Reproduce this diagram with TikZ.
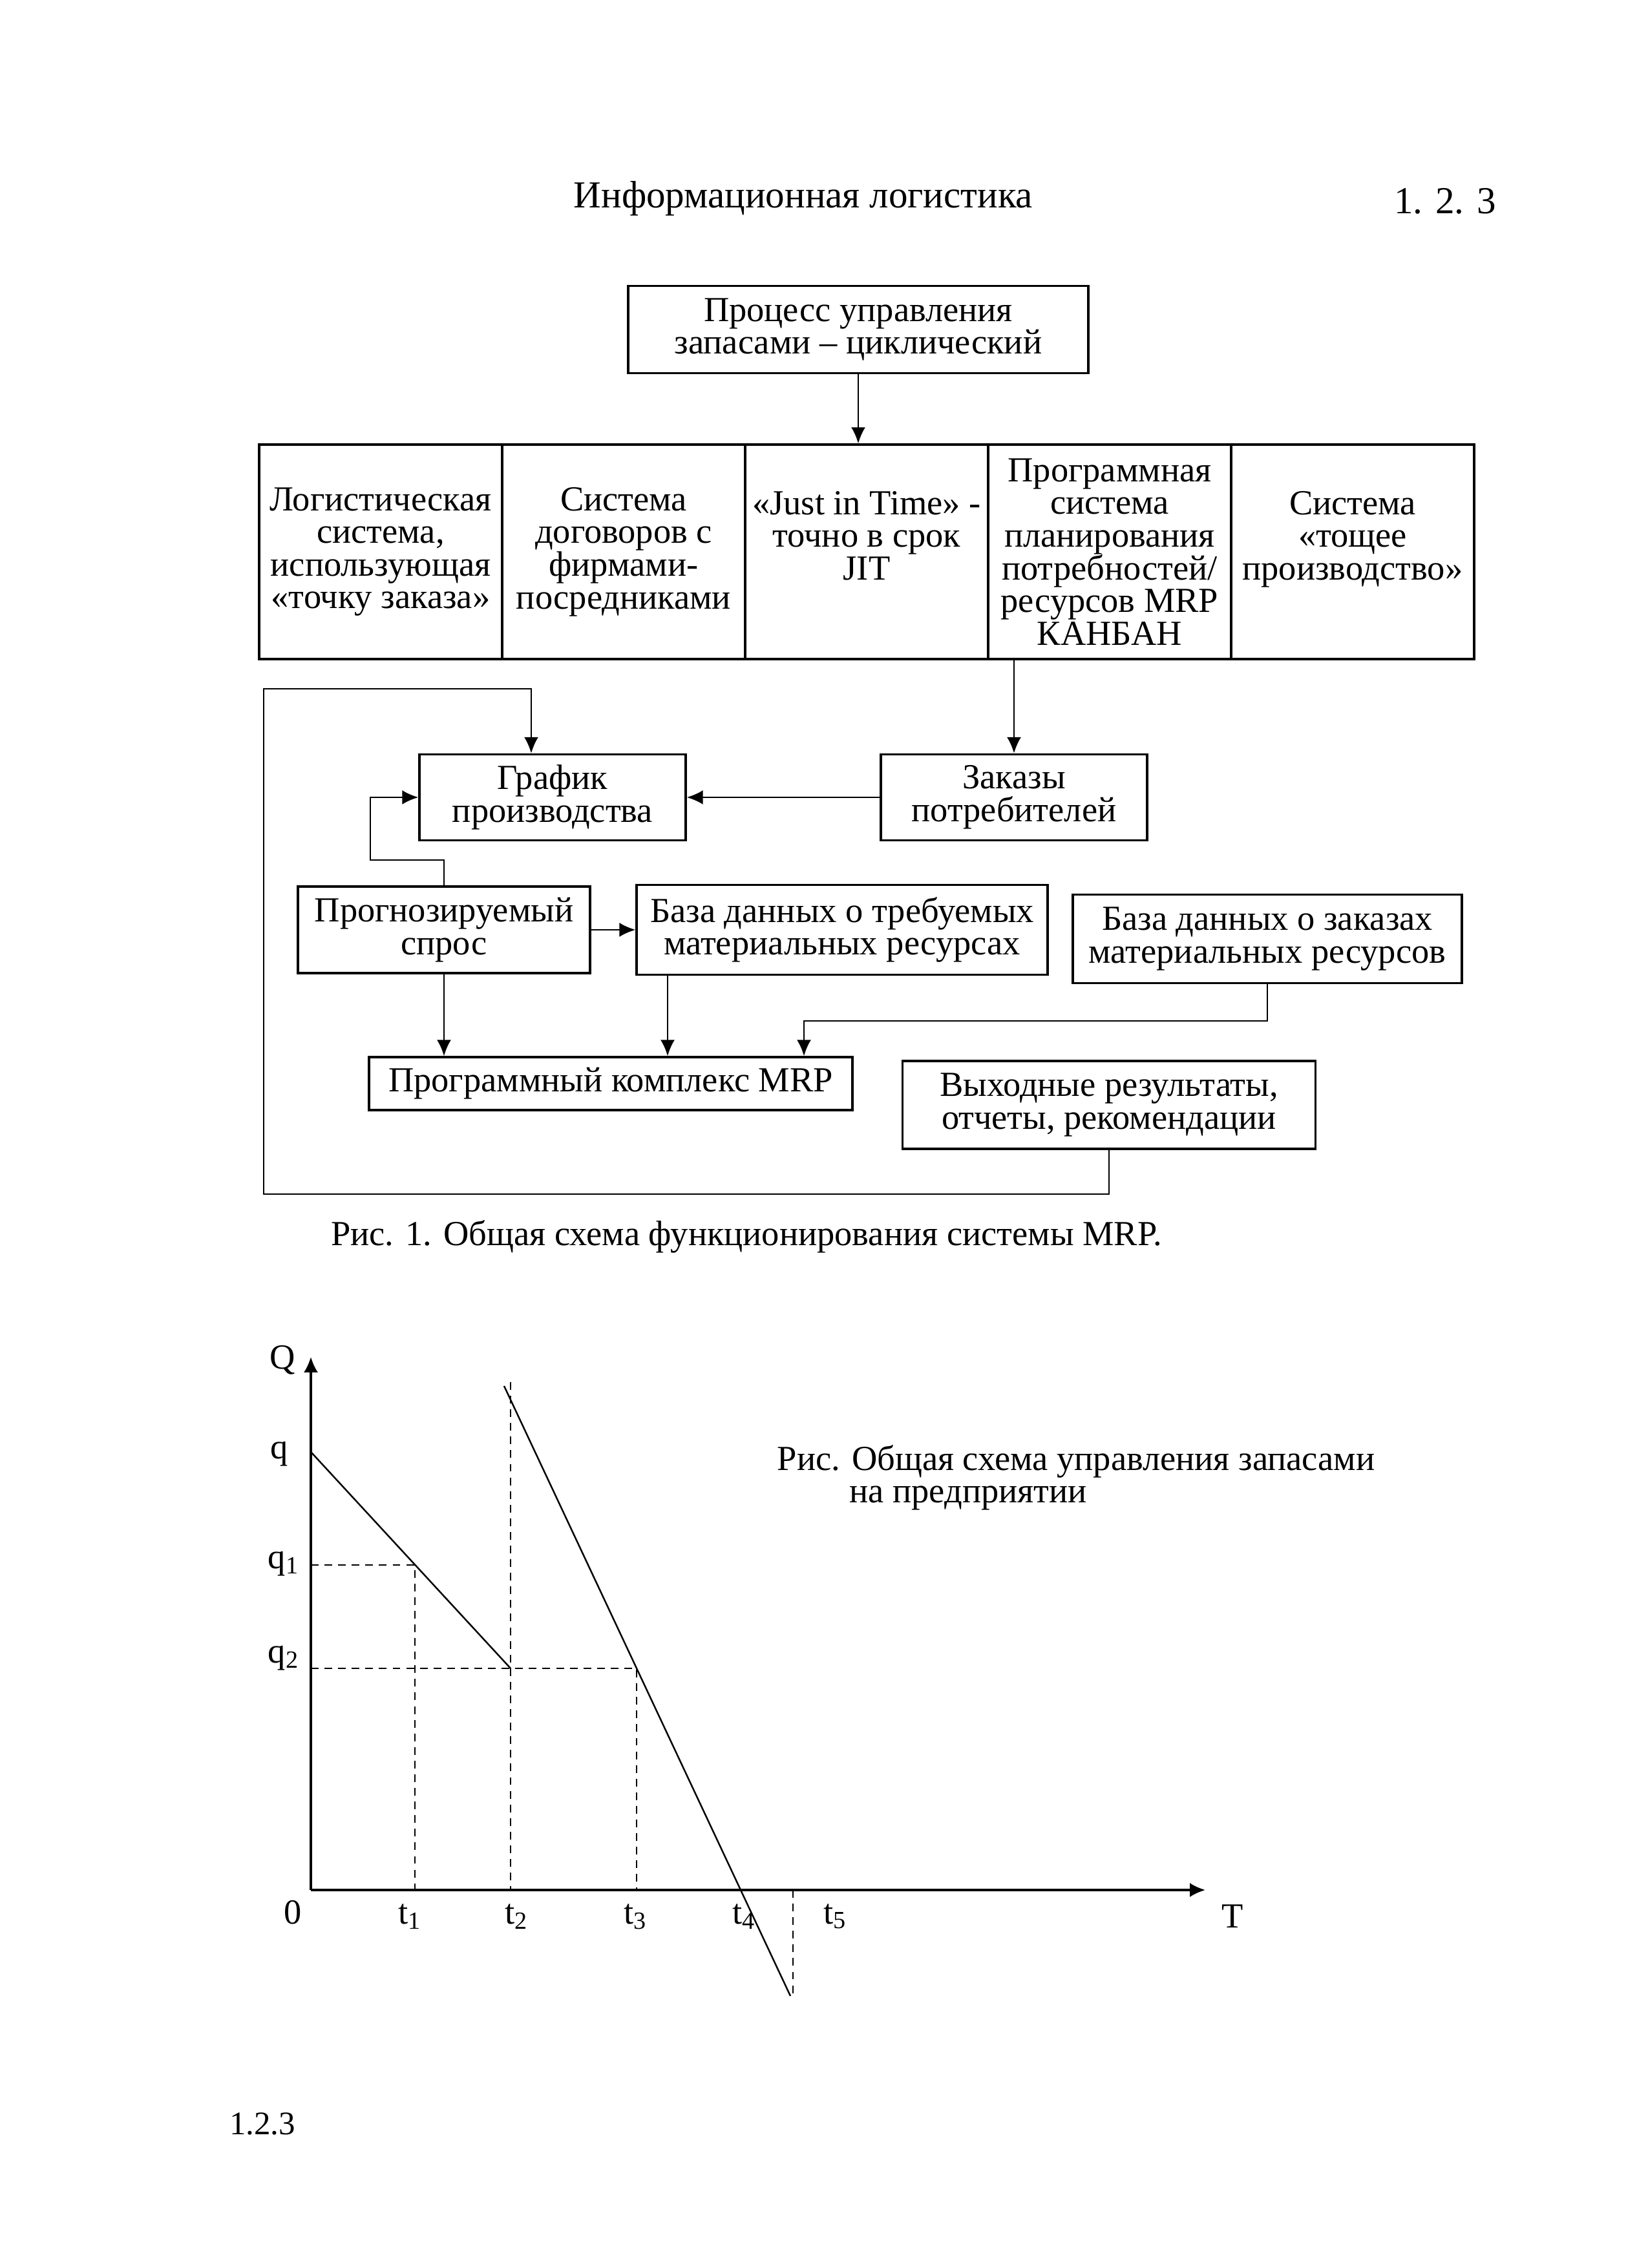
\documentclass[tikz,border=0pt]{standalone}
\usepackage{fontspec}
\setmainfont{Liberation Serif}
\usetikzlibrary{arrows.meta}
\newcommand{\boxfont}{\fontsize{15.5}{14.4}\selectfont}
\newcommand{\headfont}{\fontsize{16.8}{17}\selectfont}

\begin{document}
\begin{tikzpicture}[x=1cm,y=1cm,
  box/.style={rectangle,draw=black,line width=0.9pt,align=center,inner sep=0pt,font=\boxfont},
  rowbox/.style={box,minimum width=3.76cm,minimum height=3.32cm},
  flow/.style={-{Latex[length=2.5mm,width=2.2mm]},line width=0.8pt},
  axisline/.style={-{Latex[length=2.4mm,width=2.2mm]},line width=0.9pt},
  guide/.style={line width=0.6pt,dash pattern=on 3.4pt off 2.6pt},
  stock/.style={line width=0.7pt},
  lbl/.style={inner sep=0pt,font=\boxfont}]
  \useasboundingbox[fill=white] (0,0) rectangle (25.5,35.1);

  \node[lbl,font=\headfont] (head) at (12.43,32.03) {Информационная логистика};
  \node[lbl,font=\headfont] (headnum) at (22.36,31.99) {1. 2. 3};

  \node[box,minimum width=7.12cm,minimum height=1.35cm] (proc) at (13.28,30.00) {Процесс управления\\запасами – циклический};

  \node[rowbox] (ordpt) at (5.89,26.56) {Логистическая\\система,\\использующая\\«точку заказа»};
  \node[rowbox] (contr) at (9.65,26.56) {Система\\договоров с\\фирмами-\\посредниками};
  \node[rowbox] (jit) at (13.41,26.56) {«Just in Time» -\\точно в срок\\JIT\\\mbox{}};
  \node[rowbox] (mrpsys) at (17.17,26.56) {Программная\\система\\планирования\\потребностей/\\ресурсов MRP\\КАНБАН};
  \node[rowbox] (lean) at (20.93,26.56) {Система\\«тощее\\производство»\\\mbox{}};

  \node[box,minimum width=4.12cm,minimum height=1.33cm] (graf) at (8.55,22.76) {График\\производства};
  \node[box,minimum width=4.12cm,minimum height=1.33cm] (zak) at (15.69,22.76) {Заказы\\потребителей};
  \node[box,minimum width=4.52cm,minimum height=1.34cm] (prog) at (6.87,20.71) {Прогнозируемый\\спрос};
  \node[box,minimum width=6.36cm,minimum height=1.39cm] (dbreq) at (13.03,20.71) {База данных о требуемых\\материальных ресурсах};
  \node[box,minimum width=6.02cm,minimum height=1.37cm] (dbord) at (19.61,20.57) {База данных о заказах\\материальных ресурсов};
  \node[box,minimum width=7.48cm,minimum height=0.82cm] (mrp) at (9.45,18.33) {Программный комплекс MRP};
  \node[box,minimum width=6.39cm,minimum height=1.36cm] (out) at (17.16,18.00) {Выходные результаты,\\отчеты, рекомендации};

  \coordinate (pg1) at (5.73,21.79);
  \coordinate (ob1) at (12.44,19.30);
  \coordinate (fb1) at (4.08,16.62);
  \coordinate (fb2) at (4.08,24.44);
  \coordinate (fb3) at (8.22,24.44);

  \draw[flow] (proc.south) -- (proc.south |- jit.north);
  \draw[flow] (mrpsys.south -| zak.north) -- (zak.north);
  \draw[flow] (zak.west) -- (graf.east);
  \draw[flow] (prog.north) |- (pg1) |- (graf.west);
  \draw[flow] (prog.east) -- (dbreq.west);
  \draw[flow] (prog.south) -- (prog.south |- mrp.north);
  \draw[flow] ([xshift=-2.7cm]dbreq.south) -- ([xshift=-2.7cm]dbreq.south |- mrp.north);
  \draw[flow] (dbord.south) |- (ob1) -- (ob1 |- mrp.north);
  \draw[flow] (out.south) |- (fb1) -- (fb2) -- (fb3) -- (fb3 |- graf.north);

  \node[lbl] (cap1) at (11.55,15.96) {Рис. 1. Общая схема функционирования системы MRP.};

  % stock chart
  \coordinate (o) at (4.81,5.85);
  \coordinate (ytop) at (4.81,14.10);
  \coordinate (xend) at (18.65,5.85);
  \coordinate (qa) at (4.81,12.63);
  \coordinate (pa) at (6.42,10.88);
  \coordinate (pb) at (7.90,9.28);
  \coordinate (pc) at (9.85,9.28);
  \coordinate (sa) at (7.80,13.65);
  \coordinate (sb) at (12.23,4.21);
  \draw[axisline] (o) -- (ytop);
  \draw[axisline] (o) -- (xend);
  \draw[stock] (qa) -- (pb);
  \draw[stock] (sa) -- (sb);
  \draw[guide] (pa -| o) -- (pa) -- (pa |- o);
  \draw[guide] (pb -| o) -- (pc) -- (pc |- o);
  \draw[guide] (7.90,13.71) -- (7.90,5.85);
  \draw[guide] (12.27,5.85) -- (12.27,4.20);

  \node[lbl] (lq) at (4.37,14.05) {Q};
  \node[lbl] (lqa) at (4.32,12.60) {q};
  \node[lbl] (lqb) at (4.39,10.90) {q\textsubscript{1}};
  \node[lbl] (lqc) at (4.39,9.44) {q\textsubscript{2}};
  \node[lbl] (l0) at (4.53,5.50) {0};
  \node[lbl] (lt1) at (6.34,5.44) {t\textsubscript{1}};
  \node[lbl] (lt2) at (7.99,5.44) {t\textsubscript{2}};
  \node[lbl] (lt3) at (9.83,5.44) {t\textsubscript{3}};
  \node[lbl] (lt4) at (11.51,5.44) {t\textsubscript{4}};
  \node[lbl] (lt5) at (12.92,5.44) {t\textsubscript{5}};
  \node[lbl] (lT) at (19.07,5.44) {T};

  \node[lbl,anchor=west,align=left] (cap2) at (12.02,12.23) {Рис. Общая схема управления запасами\\\hspace*{1.12cm}на предприятии};

  \node[lbl,font=\fontsize{14.5}{14.4}\selectfont] (foot) at (4.06,2.23) {1.2.3};
\end{tikzpicture}
\end{document}
